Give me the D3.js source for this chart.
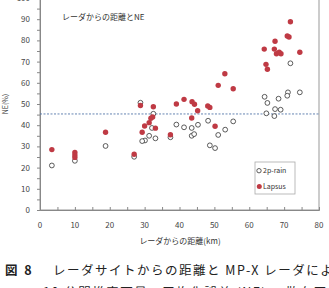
<!DOCTYPE html>
<html>
<head>
<meta charset="utf-8">
<script src="https://cdn.jsdelivr.net/npm/d3@7"></script>
<style>
  body { margin: 0; background: #fff; }
  svg text { font-family: "Noto Sans CJK JP", "Noto Sans", sans-serif; }
</style>
</head>
<body>
<div id="chart"></div>
<script>
// 2p-rain (open circles): distance km, NE %
var rain_km = [3.4, 10, 18.8, 27, 28.8, 32.5, 32.1, 31.3, 30.1, 29.3, 33.1, 37.4, 39.1, 41.3, 43.5, 45.3,
               43.5, 44.2, 48.2, 55.4, 53.1, 51.1, 48.7, 50.2, 64.4, 71.8, 71.1, 70.9, 74.5, 68.4, 65.2,
               67.4, 69.0, 64.9, 67.2];
var rain_ne = [21.0, 23.2, 30.2, 25.1, 50.6, 45.4, 38.7, 35.0, 32.8, 32.5, 33.8, 34.3, 40.3, 39.0, 38.7, 40.2,
               35.0, 35.8, 42.1, 41.8, 37.9, 35.4, 30.5, 29.2, 53.4, 69.2, 55.5, 53.9, 55.5, 52.5, 50.5,
               47.6, 47.3, 45.6, 44.3];
// Lapsus (filled red)
var lapsus_km = [3.4, 10, 10, 10, 18.8, 27, 28.8, 32.5, 32.3, 31.8, 31.3, 30.0, 33.1, 29.3, 37.4, 39.1,
                 41.3, 43.6, 44.3, 45.2, 43.5, 48.1, 48.7, 50.2, 51.1, 53.0, 55.4, 64.3, 64.8, 65.2, 67.2,
                 67.4, 67.8, 68.6, 69.1, 70.9, 71.4, 71.8, 74.5];
var lapsus_ne = [28.5, 27.1, 25.9, 24.8, 36.7, 26.3, 49.3, 48.7, 43.9, 43.3, 41.2, 39.6, 38.6, 36.7, 35.5, 50.0,
                 52.2, 51.1, 49.9, 46.8, 43.4, 49.1, 48.4, 39.5, 58.8, 64.3, 57.2, 75.9, 68.7, 66.4, 75.9,
                 79.6, 73.7, 74.4, 73.7, 82.1, 81.6, 88.8, 74.4];
var ne_line = 45.3;
var x_ticks = [0, 10, 20, 30, 40, 50, 60, 70, 80];
var y_ticks = [0, 10, 20, 30, 40, 50, 60, 70, 80, 90, 100];

var width = 329, height = 288;
var svg = d3.select('#chart').append('svg')
    .attr('width', width)
    .attr('height', height);

var scale_x = d3.scaleLinear().domain([0, 80]).range([40, 319]);
var scale_y = d3.scaleLinear().domain([0, 100]).range([210, -2]);

// plot frame
svg.append('rect')
   .attr('x', scale_x(0)).attr('y', scale_y(100))
   .attr('width', scale_x(80) - scale_x(0))
   .attr('height', scale_y(0) - scale_y(100))
   .attr('fill', 'none').attr('stroke', '#999').attr('stroke-width', 1);

// minor ticks every 5
var axis_x = d3.axisBottom(scale_x).tickValues(d3.range(0, 81, 5)).tickSize(-3).tickFormat('');
svg.append('g').attr('transform', 'translate(0,' + scale_y(0) + ')').call(axis_x);
var axis_y = d3.axisLeft(scale_y).tickValues(d3.range(0, 101, 5)).tickSize(3).tickFormat('');
svg.append('g').attr('transform', 'translate(' + scale_x(0) + ',0)').call(axis_y);
svg.selectAll('.domain').attr('stroke', '#888');
svg.selectAll('.tick line').attr('stroke', '#888');

// tick labels
svg.selectAll('.xlab').data(x_ticks).enter().append('text')
   .attr('x', function(d) { return scale_x(d); })
   .attr('y', 228)
   .attr('text-anchor', 'middle')
   .attr('font-size', 8).attr('fill', '#444')
   .text(function(d) { return d; });
svg.selectAll('.ylab').data(y_ticks).enter().append('text')
   .attr('x', 30)
   .attr('y', function(d) { return scale_y(d) + 3; })
   .attr('text-anchor', 'end')
   .attr('font-size', 8).attr('fill', '#444')
   .text(function(d) { return d; });

// average NE line
svg.append('line')
   .attr('x1', scale_x(0)).attr('x2', scale_x(80))
   .attr('y1', scale_y(ne_line)).attr('y2', scale_y(ne_line))
   .attr('stroke', '#5577aa').attr('stroke-width', 0.9).attr('stroke-dasharray', '2,1.5');

// points
svg.selectAll('.rain').data(rain_km).enter().append('circle')
   .attr('cx', function(d) { return scale_x(d); })
   .attr('cy', function(d, i) { return scale_y(rain_ne[i]); })
   .attr('r', 2.4)
   .attr('fill', '#fff').attr('stroke', '#333').attr('stroke-width', 0.8);
svg.selectAll('.lapsus').data(lapsus_km).enter().append('circle')
   .attr('cx', function(d) { return scale_x(d); })
   .attr('cy', function(d, i) { return scale_y(lapsus_ne[i]); })
   .attr('r', 2.7)
   .attr('fill', '#bf3a44');

// titles
svg.append('text').attr('x', 62).attr('y', 19.5)
   .attr('font-size', 8).attr('fill', '#333').text('レーダからの距離とNE');
svg.append('text').attr('x', 180).attr('y', 244)
   .attr('text-anchor', 'middle').attr('font-size', 8).attr('fill', '#333').text('レーダからの距離(km)');
svg.append('text').attr('transform', 'translate(8,104) rotate(-90)')
   .attr('text-anchor', 'middle').attr('font-size', 7).attr('fill', '#333').text('NE(%)');

// legend
svg.append('rect').attr('x', 255).attr('y', 162).attr('width', 40).attr('height', 32)
   .attr('fill', '#fff').attr('stroke', '#aaa').attr('stroke-width', 0.8);
svg.append('circle').attr('cx', 259).attr('cy', 170.7).attr('r', 2.2)
   .attr('fill', '#fff').attr('stroke', '#333').attr('stroke-width', 0.8);
svg.append('text').attr('x', 263).attr('y', 173.2).attr('font-size', 7).attr('fill', '#333').text('2p-rain');
svg.append('circle').attr('cx', 259.3).attr('cy', 186.5).attr('r', 2.5).attr('fill', '#bf3a44');
svg.append('text').attr('x', 263).attr('y', 189).attr('font-size', 7).attr('fill', '#333').text('Lapsus');

// caption
svg.append('text').attr('x', 5).attr('y', 275).attr('font-size', 12.5).attr('font-weight', 'bold')
   .attr('fill', '#222').attr('font-family', '"Liberation Serif", "Noto Sans CJK JP", serif')
   .attr('letter-spacing', 2).text('図 8');
svg.append('text').attr('x', 53).attr('y', 275).attr('font-size', 12.5).attr('fill', '#222')
   .attr('letter-spacing', 1.5).text('レーダサイトからの距離と MP-X レーダによる');
svg.append('text').attr('x', 43).attr('y', 297).attr('font-size', 12.5).attr('fill', '#222')
   .attr('letter-spacing', 1.5).text('10 分間推定雨量の平均化誤差 (NE) の散布図，そ');
</script>
</body>
</html>
